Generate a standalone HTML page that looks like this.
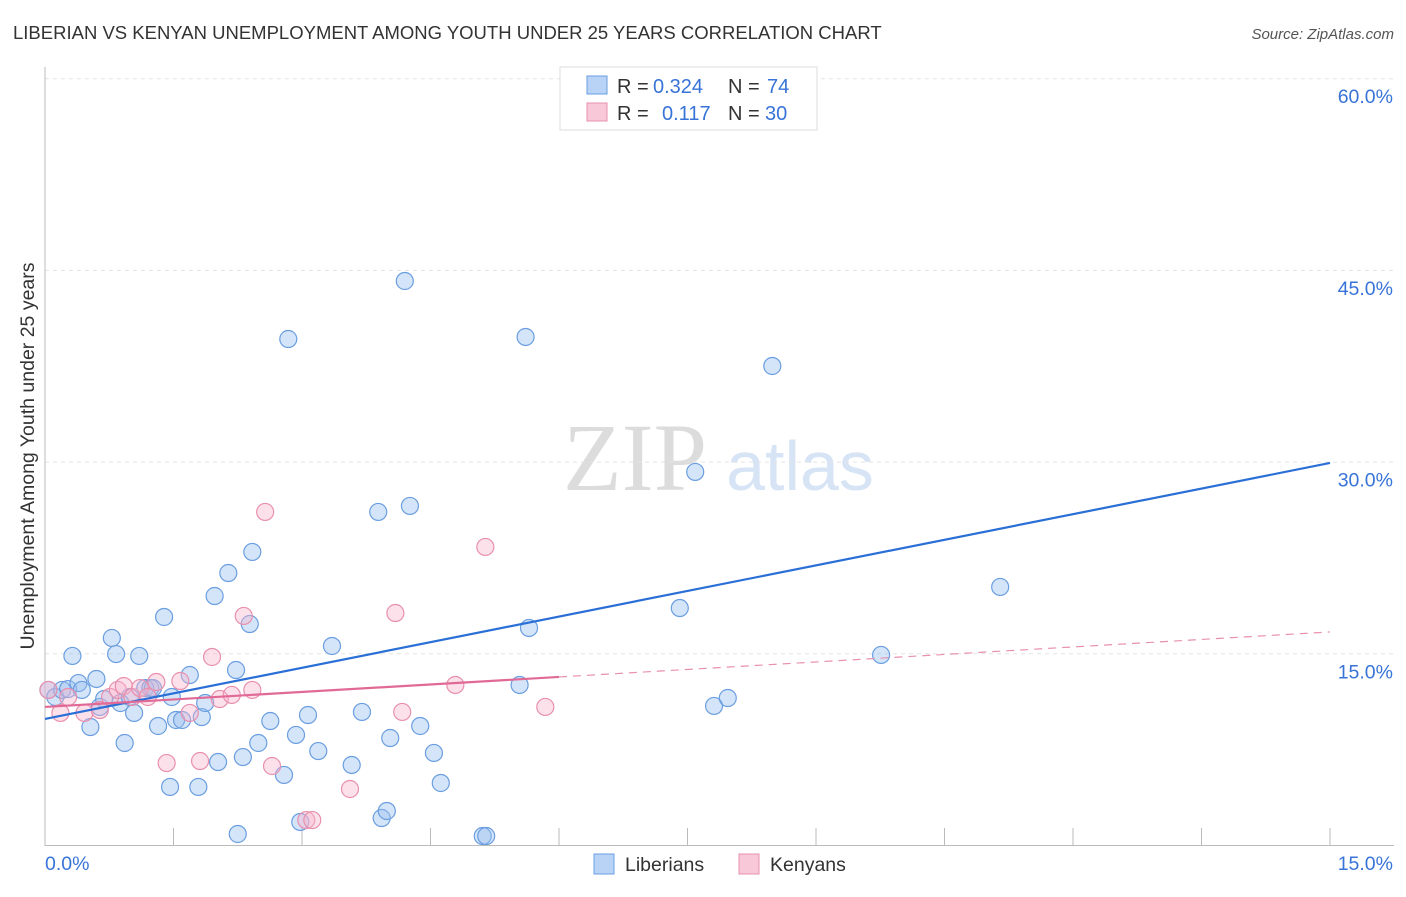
<!DOCTYPE html>
<html><head><meta charset="utf-8"><style>
body{margin:0;background:#fff;}
</style></head><body>
<svg id="chart" width="1406" height="892" xmlns="http://www.w3.org/2000/svg" font-family="Liberation Sans, sans-serif">
<text x="13" y="39" font-size="18.5" fill="#333">LIBERIAN VS KENYAN UNEMPLOYMENT AMONG YOUTH UNDER 25 YEARS CORRELATION CHART</text>
<text x="1394" y="39" font-size="15" fill="#555" text-anchor="end" font-style="italic">Source: ZipAtlas.com</text>
<g>
<text x="635" y="490" font-size="96" fill="#dcdcdc" text-anchor="middle" style="font-family:'Liberation Serif',serif">ZIP</text>
<text x="800" y="490" font-size="70" fill="#d6e4f5" text-anchor="middle">atlas</text>
</g>
<g id="grid"></g><g id="axes"></g><g id="marks"></g>
<text transform="translate(34,456) rotate(-90)" font-size="19.5" fill="#333" text-anchor="middle">Unemployment Among Youth under 25 years</text>
<g font-size="20">
<rect x="560" y="67" width="257" height="63" fill="#fff" stroke="#ddd"/>
<rect x="587" y="76" width="20" height="18" fill="#b8d3f5" stroke="#6a9ee0"/>
<rect x="587" y="103" width="20" height="18" fill="#f9c8d8" stroke="#e890ae"/>
<text x="617" y="93" fill="#333">R =</text>
<text x="653" y="93" fill="#3874d8">0.324</text>
<text x="728" y="93" fill="#333">N =</text>
<text x="767" y="93" fill="#3874d8">74</text>
<text x="617" y="120" fill="#333">R =</text>
<text x="662" y="120" fill="#3874d8">0.117</text>
<text x="728" y="120" fill="#333">N =</text>
<text x="765" y="120" fill="#3874d8">30</text>
</g>
<g>
<rect x="594" y="854" width="20" height="20" fill="#b8d3f5" stroke="#6a9ee0"/>
<text x="625" y="871" font-size="19.5" fill="#333">Liberians</text>
<rect x="739" y="854" width="20" height="20" fill="#f9c8d8" stroke="#e890ae"/>
<text x="770" y="871" font-size="19.5" fill="#333">Kenyans</text>
</g>
</svg>
<script>
const libX=[0.04,0.12,0.20,0.27,0.32,0.39,0.43,0.53,0.60,0.64,0.69,0.78,0.83,0.88,0.93,0.99,1.04,1.10,1.17,1.23,1.26,1.32,1.39,1.46,1.48,1.53,1.60,1.69,1.79,1.83,1.87,1.98,2.02,2.14,2.23,2.25,2.31,2.39,2.42,2.49,2.63,2.79,2.84,2.93,2.98,3.07,3.19,3.35,3.58,3.70,3.89,3.93,3.99,4.03,4.20,4.26,4.38,4.54,4.62,5.11,5.15,5.54,5.61,5.65,7.41,7.59,7.81,7.97,8.49,9.76,11.15];
const libY=[12.21,11.66,12.21,12.28,14.87,12.75,12.21,9.31,13.07,10.88,11.50,16.28,15.02,11.19,8.06,11.66,10.41,14.87,12.36,12.36,12.36,9.39,17.92,4.62,11.66,9.86,9.86,13.38,4.62,10.09,11.19,19.56,6.57,21.36,13.77,0.94,6.96,17.37,23.01,8.06,9.78,5.56,39.67,8.69,1.88,10.25,7.43,15.65,6.34,10.49,26.14,2.19,2.74,8.45,44.21,26.61,9.39,7.28,4.93,0.78,0.78,12.60,39.83,17.06,18.62,29.27,10.96,11.58,37.56,14.95,20.27];
const kenX=[0.04,0.18,0.27,0.46,0.64,0.76,0.85,0.92,1.02,1.11,1.20,1.30,1.42,1.58,1.69,1.81,1.95,2.04,2.18,2.32,2.42,2.57,2.65,3.05,3.12,3.56,4.09,4.17,4.79,5.14,5.84];
const kenY=[12.21,10.41,11.66,10.41,10.64,11.66,12.21,12.52,11.66,12.36,11.66,12.83,6.49,12.91,10.41,6.65,14.79,11.50,11.82,18.00,12.21,26.14,6.26,2.03,2.03,4.46,18.23,10.49,12.60,23.40,10.88];
const yTicks=[15,30,45,60];
const yTickLabels=["15.0%","30.0%","45.0%","60.0%"];
const libTrend=[9.94,29.97];
const kenTrend=[10.88,16.75];
const kenSolidEnd=6.0;
const NS="http://www.w3.org/2000/svg";
const X=v=>45+v/15*1285, Y=v=>846-v/15*191.7;
function mk(t,a,p){const e=document.createElementNS(NS,t);for(const k in a)e.setAttribute(k,a[k]);p.appendChild(e);return e;}
const grid=document.getElementById('grid'),axes=document.getElementById('axes'),marks=document.getElementById('marks');
yTicks.forEach((t,i)=>{
 const l=mk('line',{x1:45,x2:1394,y1:Y(t)-0.5,y2:Y(t)-0.5,stroke:'#e3e3e3','stroke-dasharray':'4,4'},grid);
 
 
 const tx=mk('text',{x:1393,y:Y(t)+24,'font-size':19.5,fill:'#3874d8','text-anchor':'end'},axes);
 tx.textContent=yTickLabels[i];
 
 
});
const ya=mk('line',{x1:45,x2:45,y1:67,y2:846,stroke:'#bbb'},axes);


const xa=mk('line',{x1:45,x2:1394,y1:845.5,y2:845.5,stroke:'#bbb'},axes);


for(let i=0;i<=10;i++){const v=i*1.5;const t=mk('line',{x1:X(v),x2:X(v),y1:828,y2:846,stroke:'#bbb'},axes);
 
 }
[['0.0%',45,'start'],['15.0%',1393,'end']].forEach(a=>{const t=mk('text',{x:a[1],y:870,'font-size':19.5,fill:'#3874d8','text-anchor':a[2]},axes);t.textContent=a[0];
 
 });
libX.forEach((x,i)=>{const c=mk('circle',{cx:X(x),cy:Y(libY[i]),r:8.5,fill:'rgba(150,190,240,0.4)',stroke:'#6a9ee0','stroke-width':1.2},marks);
 
 });
kenX.forEach((x,i)=>{const c=mk('circle',{cx:X(x),cy:Y(kenY[i]),r:8.5,fill:'rgba(248,180,205,0.4)',stroke:'#e890ae','stroke-width':1.2},marks);
 
 });
const lt=mk('line',{x1:X(0),y1:Y(libTrend[0]),x2:X(15),y2:Y(libTrend[1]),stroke:'#2a6fd6','stroke-width':2.2},marks);


const km=kenTrend[0]+(kenTrend[1]-kenTrend[0])*kenSolidEnd/15;
const ks=mk('line',{x1:X(0),y1:Y(kenTrend[0]),x2:X(kenSolidEnd),y2:Y(km),stroke:'#e06a95','stroke-width':2.2},marks);


const kd=mk('line',{x1:X(kenSolidEnd),y1:Y(km),x2:X(15),y2:Y(kenTrend[1]),stroke:'#e890ae','stroke-width':1.2,'stroke-dasharray':'8,6'},marks);


</script>
</body></html>
